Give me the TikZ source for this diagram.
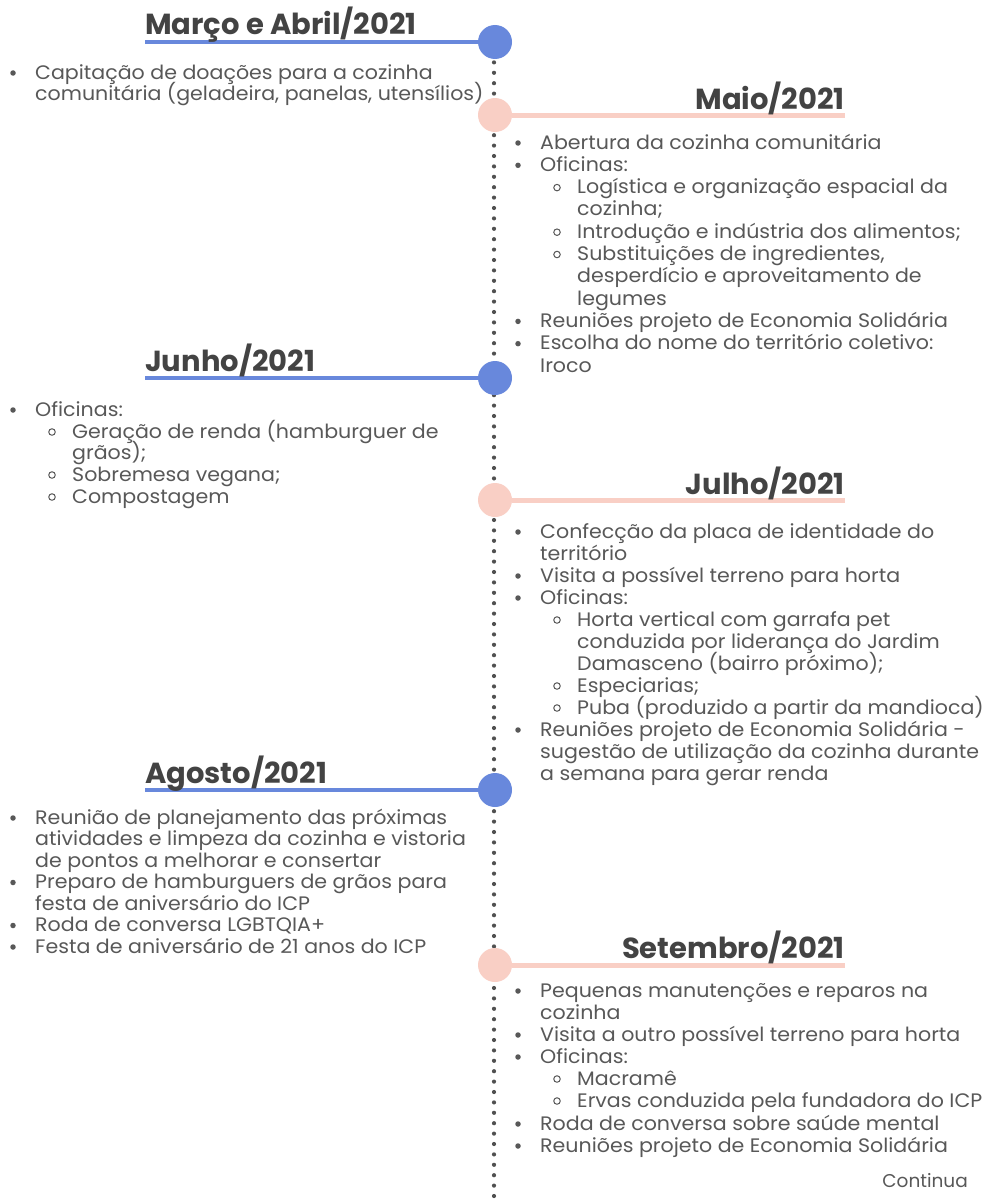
\documentclass[tikz,border=0pt]{standalone}
\usepackage{fontspec}
\setmainfont{Poppins}
\newfontfamily\bodyfam{Poppins}[FakeStretch=1.055]
\definecolor{textgray}{RGB}{88,88,88}
\definecolor{headgray}{RGB}{67,67,67}
\definecolor{tlblue}{RGB}{104,136,220}
\definecolor{tlpink}{RGB}{249,207,197}
\definecolor{dotgray}{RGB}{80,80,80}
\newcommand\bodyfont{\bodyfam\fontsize{19.5}{22}\selectfont}
\newcommand\headfont{\fontsize{29}{32}\selectfont\bfseries}
\newcommand\itm[4]{\node[dotb] (#1b) at (#2-22,#3-6) {}; \node[txt] (#1) at (#2,#3) {#4};}
\newcommand\sitm[4]{\node[openb] (#1b) at (#2-20,#3-6) {}; \node[txt] (#1) at (#2,#3) {#4};}
\newcommand\cont[4]{\node[txt] (#1) at (#2,#3) {#4};}
\begin{document}
\begin{tikzpicture}[x=1pt,y=-1pt,
  txt/.style={font=\bodyfont, text=textgray, anchor=base west, inner sep=0pt},
  head/.style={font=\headfont, text=headgray, inner sep=0pt},
  dotb/.style={circle, fill=textgray, inner sep=0pt, minimum size=5.5pt},
  openb/.style={circle, draw=textgray, line width=1pt, inner sep=0pt, minimum size=6.5pt},
  bcirc/.style={circle, fill=tlblue, inner sep=0pt, minimum size=34pt},
  pcirc/.style={circle, fill=tlpink, inner sep=0pt, minimum size=34pt},
  bline/.style={draw=tlblue, line width=4pt},
  pline/.style={draw=tlpink, line width=5pt},
  dotline/.style={draw=dotgray, line width=4.2pt, line cap=round, dash pattern=on 0pt off 10.4pt}]
\useasboundingbox[fill=white] (0,0) rectangle (998,1199);

% dotted timeline
\coordinate (top) at (494,52);
\coordinate (bot) at (494,1205);
\draw[dotline] (top) -- (bot);

% circles
\node[bcirc] (c1) at (495,42) {};
\node[pcirc] (c2) at (495,115) {};
\node[bcirc] (c3) at (495,378) {};
\node[pcirc] (c4) at (495,500) {};
\node[bcirc] (c5) at (495,790) {};
\node[pcirc] (c6) at (495,965) {};

% header lines
\coordinate (l1) at (145,42);
\coordinate (l2) at (845,115);
\coordinate (l3) at (145,378);
\coordinate (l4) at (845,500);
\coordinate (l5) at (145,790);
\coordinate (l6) at (845,965);
\draw[bline] (l1) -- (c1);
\draw[pline] (c2) -- (l2);
\draw[bline] (l3) -- (c3);
\draw[pline] (c4) -- (l4);
\draw[bline] (l5) -- (c5);
\draw[pline] (c6) -- (l6);

% headings
\node[head, anchor=base west] (h1) at (145,35) {Março e Abril/2021};
\node[head, anchor=base east] (h2) at (845,109) {Maio/2021};
\node[head, anchor=base west] (h3) at (145,371) {Junho/2021};
\node[head, anchor=base east] (h4) at (845,494) {Julho/2021};
\node[head, anchor=base west] (h5) at (145,783) {Agosto/2021};
\node[head, anchor=base east] (h6) at (845,958) {Setembro/2021};

% Março e Abril
\itm{a1}{35}{79}{Capitação de doações para a cozinha}
\cont{a2}{35}{100}{comunitária (geladeira, panelas, utensílios)}

% Maio
\itm{m1}{540}{149}{Abertura da cozinha comunitária}
\itm{m2}{540}{171.3}{Oficinas:}
\sitm{m3}{577}{193.6}{Logística e organização espacial da}
\cont{m4}{577}{215.9}{cozinha;}
\sitm{m5}{577}{238.2}{Introdução e indústria dos alimentos;}
\sitm{m6}{577}{260.5}{Substituições de ingredientes,}
\cont{m7}{577}{282.8}{desperdício e aproveitamento de}
\cont{m8}{577}{305.1}{legumes}
\itm{m9}{540}{327.4}{Reuniões projeto de Economia Solidária}
\itm{m10}{540}{349.7}{Escolha do nome do território coletivo:}
\cont{m11}{540}{372}{Iroco}

% Junho
\itm{j1}{35}{416}{Oficinas:}
\sitm{j2}{72}{438}{Geração de renda (hamburguer de}
\cont{j3}{72}{459.5}{grãos);}
\sitm{j4}{72}{481}{Sobremesa vegana;}
\sitm{j5}{72}{503}{Compostagem}

% Julho
\itm{u1}{540}{538}{Confecção da placa de identidade do}
\cont{u2}{540}{560}{território}
\itm{u3}{540}{582}{Visita a possível terreno para horta}
\itm{u4}{540}{604}{Oficinas:}
\sitm{u5}{577}{626}{Horta vertical com garrafa pet}
\cont{u6}{577}{648}{conduzida por liderança do Jardim}
\cont{u7}{577}{670}{Damasceno (bairro próximo);}
\sitm{u8}{577}{692}{Especiarias;}
\sitm{u9}{577}{714}{Puba (produzido a partir da mandioca)}
\itm{u10}{540}{736}{Reuniões projeto de Economia Solidária -}
\cont{u11}{540}{758}{sugestão de utilização da cozinha durante}
\cont{u12}{540}{780}{a semana para gerar renda}

% Agosto
\itm{g1}{35}{824}{Reunião de planejamento das próximas}
\cont{g2}{35}{845.5}{atividades e limpeza da cozinha e vistoria}
\cont{g3}{35}{867}{de pontos a melhorar e consertar}
\itm{g4}{35}{888.5}{Preparo de hamburguers de grãos para}
\cont{g5}{35}{910}{festa de aniversário do ICP}
\itm{g6}{35}{931.5}{Roda de conversa LGBTQIA+}
\itm{g7}{35}{953}{Festa de aniversário de 21 anos do ICP}

% Setembro
\itm{s1}{540}{997}{Pequenas manutenções e reparos na}
\cont{s2}{540}{1019}{cozinha}
\itm{s3}{540}{1041}{Visita a outro possível terreno para horta}
\itm{s4}{540}{1063}{Oficinas:}
\sitm{s5}{577}{1085}{Macramê}
\sitm{s6}{577}{1107}{Ervas conduzida pela fundadora do ICP}
\itm{s7}{540}{1130}{Roda de conversa sobre saúde mental}
\itm{s8}{540}{1152}{Reuniões projeto de Economia Solidária}

\node[txt, anchor=base east, font=\fontsize{18.5}{22}\selectfont] (cont) at (968,1187) {Continua};
\end{tikzpicture}
\end{document}
